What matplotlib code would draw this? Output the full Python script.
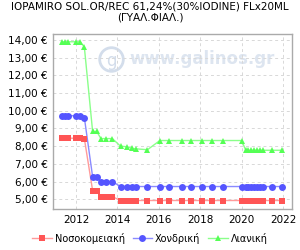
import matplotlib
matplotlib.use("Agg")
import matplotlib.pyplot as plt

plt.rcParams["font.family"] = ["DejaVu Sans"]

TITLE = "IOPAMIRO SOL.OR/REC 61,24%(30%IODINE) FLx20ML\n(ΓΥΑΛ.ΦΙΑΛ.)"

# decimal years of each price revision
dates = [2011.3, 2011.45, 2011.6, 2012.0, 2012.2, 2012.4,
         2012.8, 2013.0, 2013.2, 2013.45, 2013.75,
         2014.15, 2014.45, 2014.7, 2014.9, 2015.45,
         2016.05, 2016.5, 2017.1, 2017.55, 2018.1, 2018.55, 2019.1, 2020.0,
         2020.2, 2020.3, 2020.45, 2020.6, 2020.75, 2020.9, 2021.05, 2021.45, 2021.95]

hospital = [8.45, 8.45, 8.45, 8.45, 8.45, 8.43,
            5.49, 5.49, 5.15, 5.15, 5.15,
            4.93, 4.93, 4.93, 4.93, 4.93,
            4.93, 4.93, 4.93, 4.93, 4.93, 4.93, 4.93, 4.93,
            4.93, 4.93, 4.93, 4.93, 4.93, 4.93, 4.93, 4.93, 4.93]

wholesale = [9.72, 9.72, 9.72, 9.72, 9.68, 9.62,
             6.27, 6.27, 6.0, 6.0, 6.0,
             5.72, 5.72, 5.72, 5.72, 5.72,
             5.72, 5.72, 5.72, 5.72, 5.72, 5.72, 5.72, 5.72,
             5.72, 5.72, 5.72, 5.72, 5.72, 5.72, 5.72, 5.72, 5.72]

retail = [13.9, 13.9, 13.9, 13.9, 13.9, 13.6,
          8.83, 8.83, 8.43, 8.43, 8.43,
          8.0, 7.97, 7.88, 7.85, 7.8,
          8.32, 8.32, 8.32, 8.32, 8.32, 8.32, 8.32, 8.32,
          7.77, 7.77, 7.77, 7.77, 7.77, 7.77, 7.77, 7.77, 7.77]

series = [
    ("Νοσοκομειακή", hospital, "#ff5555", "#ff9a9a", "s"),
    ("Χονδρική", wholesale, "#5555ff", "#8a8aff", "o"),
    ("Λιανική", retail, "#55ff55", "#8aff8a", "^"),
]

year_ticks = [2012, 2014, 2016, 2018, 2020, 2022]
price_ticks = [5, 6, 7, 8, 9, 10, 11, 12, 13, 14]

fig = plt.figure(figsize=(3.0, 2.5), dpi=100)
ax = fig.add_axes([0.177, 0.164, 0.796, 0.70])

# watermark
ax.plot([0.243], [0.855], transform=ax.transAxes, marker="o", markersize=17,
        markerfacecolor="none", markeredgecolor="#d3ddeb", markeredgewidth=2.0, zorder=0)
ax.text(0.245, 0.845, "g", transform=ax.transAxes, ha="center", va="center",
        fontsize=12, color="#d3ddeb", zorder=0)
ax.text(0.32, 0.86, "www.galinos.gr", transform=ax.transAxes, ha="left", va="center",
        fontsize=12, color="#dde5f0", fontweight="bold", zorder=0)

handles = []
for label, values, mcolor, lcolor, marker in series:
    ax.plot(dates, values, color=lcolor, linewidth=1.0, zorder=2)
    ax.plot(dates, values, linestyle="none", marker=marker, markersize=5,
            color=mcolor, markeredgewidth=0, zorder=3)
    h, = ax.plot([], [], color=lcolor, linewidth=1.0, marker=marker, markersize=5,
                 markerfacecolor=mcolor, markeredgewidth=0, label=label)
    handles.append(h)

ax.set_xlim(2010.89, 2022.43)
ax.set_ylim(4.45, 14.34)
ax.set_xticks(year_ticks)
ax.set_xticklabels([str(y) for y in year_ticks])
ax.set_yticks(price_ticks)
ax.set_yticklabels([f"{v:.2f}".replace(".", ",") + " €" for v in price_ticks])
ax.tick_params(length=0, labelsize=7.5, pad=4)
ax.grid(True, linestyle=(0, (3, 3)), color="#d8d8d8", linewidth=0.7)
for sp in ax.spines.values():
    sp.set_color("#aaaaaa")
    sp.set_linewidth(1.0)

fig.suptitle(TITLE, fontsize=7.5, y=0.995, linespacing=1.1)
fig.legend(handles=handles, loc="lower center", bbox_to_anchor=(0.5, -0.01), ncol=3,
           frameon=False, fontsize=7, handlelength=2.0, handletextpad=0.3,
           columnspacing=0.8)

fig.savefig("out.png", dpi=100)
